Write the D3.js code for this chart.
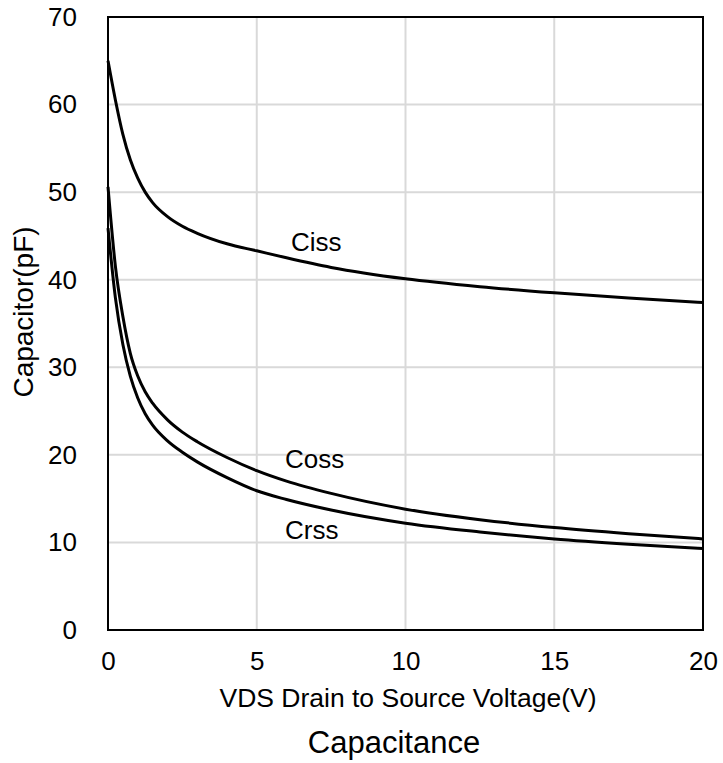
<!DOCTYPE html>
<html>
<head>
<meta charset="utf-8">
<script src="https://cdn.jsdelivr.net/npm/d3@7/dist/d3.min.js"></script>
<style>
  html, body { margin: 0; padding: 0; background: #fff; }
  svg { display: block; font-family: "Liberation Sans", Arial, sans-serif; }
</style>
</head>
<body>
<svg id="chart" width="723" height="763"></svg>
<script>
// ---- data ----
const vds  = [0, 0.25, 0.5, 0.75, 1, 1.25, 1.5, 2, 2.5, 3, 4, 5, 6, 7.5, 10, 12.5, 15, 17.5, 20];
const ciss = [65, 60.5, 56.6, 53.7, 51.6, 50.0, 48.8, 47.2, 46.1, 45.3, 44.1, 43.3, 42.5, 41.4, 40.1, 39.2, 38.5, 37.9, 37.4];
const coss = [50.6, 41.5, 35.8, 31.6, 29.0, 27.2, 25.9, 24.0, 22.6, 21.5, 19.7, 18.2, 17.0, 15.6, 13.8, 12.6, 11.7, 11.0, 10.4];
const crss = [45.9, 37.9, 32.6, 29.0, 26.5, 24.7, 23.4, 21.6, 20.3, 19.2, 17.4, 15.9, 14.9, 13.7, 12.2, 11.2, 10.4, 9.8, 9.3];
const seriesNames = ["Ciss", "Coss", "Crss"];
const labelPos = [[6.15, 43.3], [5.95, 18.5], [5.95, 10.4]];
const xTicks = [0, 5, 10, 15, 20];
const yTicks = [0, 10, 20, 30, 40, 50, 60, 70];
const xTitle = "VDS Drain to Source Voltage(V)";
const yTitle = "Capacitor(pF)";
const chartTitle = "Capacitance";

// ---- layout ----
const svg = d3.select("#chart");
const L = 108, T = 17, R = 703, B = 630;
const x = d3.scaleLinear().domain([0, 20]).range([L, R]);
const y = d3.scaleLinear().domain([0, 70]).range([B, T]);

// grid
const grid = svg.append("g");
grid.selectAll(".gx").data(xTicks).join("line")
  .attr("x1", d => x(d)).attr("x2", d => x(d)).attr("y1", T).attr("y2", B)
  .attr("stroke", "#d9d9d9").attr("stroke-width", 2);
grid.selectAll(".gy").data(yTicks).join("line")
  .attr("x1", L).attr("x2", R).attr("y1", d => y(d)).attr("y2", d => y(d))
  .attr("stroke", "#d9d9d9").attr("stroke-width", 2);

// axes (labels only)
const xAxis = svg.append("g").attr("transform", `translate(0,${B})`)
  .call(d3.axisBottom(x).tickValues(xTicks).tickSize(0).tickPadding(22).tickFormat(d3.format("d")));
const yAxis = svg.append("g").attr("transform", `translate(${L},0)`)
  .call(d3.axisLeft(y).tickValues(yTicks).tickSize(0).tickPadding(31).tickFormat(d3.format("d")));
[xAxis, yAxis].forEach(a => {
  a.select(".domain").remove();
  a.selectAll("text").attr("font-size", 26).attr("fill", "#000")
    .attr("font-family", "Liberation Sans, Arial, sans-serif");
});

// lines
const line = d3.line().x(d => x(d[0])).y(d => y(d[1])).curve(d3.curveMonotoneX);
[ciss, coss, crss].forEach(vals => {
  svg.append("path").datum(vds.map((v, i) => [v, vals[i]]))
    .attr("d", line).attr("fill", "none").attr("stroke", "#000").attr("stroke-width", 3);
});

// frame
svg.append("rect").attr("x", L).attr("y", T).attr("width", R - L).attr("height", B - T)
  .attr("fill", "none").attr("stroke", "#000").attr("stroke-width", 2);

// series labels
svg.selectAll(".slab").data(seriesNames).join("text")
  .attr("x", (d, i) => x(labelPos[i][0])).attr("y", (d, i) => y(labelPos[i][1]))
  .attr("font-size", 26).attr("fill", "#000").text(d => d);

// titles
svg.append("text").attr("x", 408).attr("y", 707).attr("text-anchor", "middle")
  .attr("font-size", 26.5).text(xTitle);
svg.append("text").attr("transform", "translate(33,312) rotate(-90)").attr("text-anchor", "middle")
  .attr("font-size", 28).text(yTitle);
svg.append("text").attr("x", 394).attr("y", 753).attr("text-anchor", "middle")
  .attr("font-size", 31).text(chartTitle);
</script>
</body>
</html>
